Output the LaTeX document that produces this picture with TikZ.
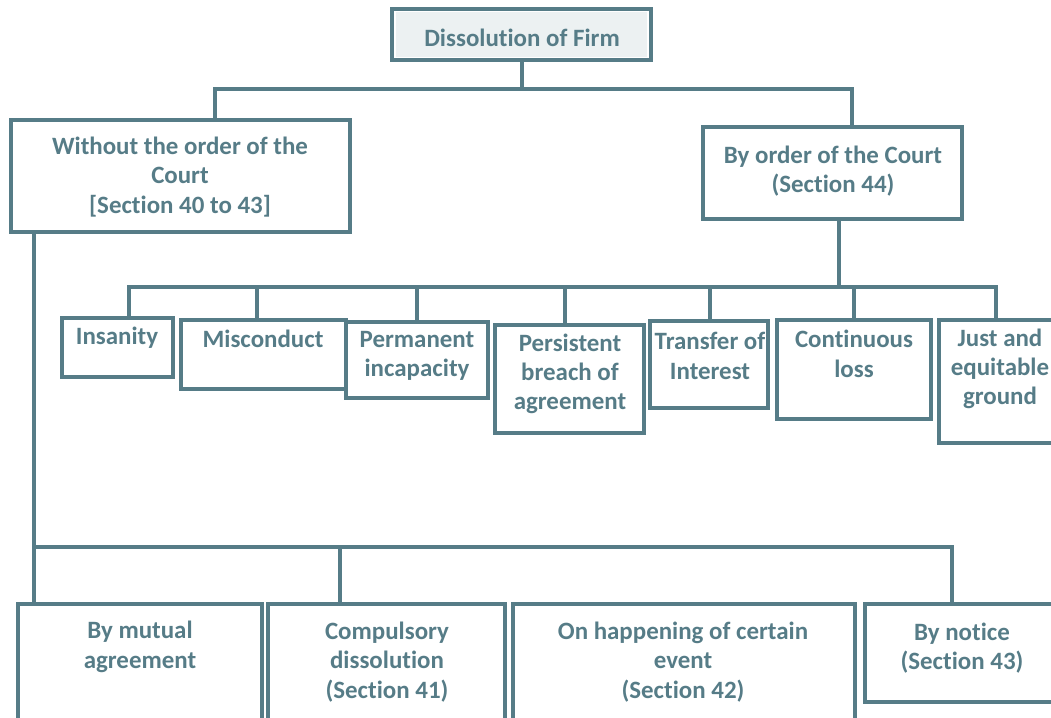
\documentclass[tikz,border=0pt]{standalone}
\usepackage{fontspec}
\setmainfont{Carlito}[Ligatures=NoCommon]
\usetikzlibrary{fit}
\definecolor{slate}{RGB}{86,124,135}
\definecolor{paper}{RGB}{236,241,242}

\begin{document}
\begin{tikzpicture}[x=0.75pt,y=-0.75pt,
  wire/.style={draw=slate,line width=3pt,line join=miter},
  box/.style={draw=slate,line width=3pt,rectangle,inner sep=0pt},
  lbl/.style={text=slate,font=\bfseries\fontsize{18.7}{22}\selectfont,align=center,inner sep=0pt}]

\useasboundingbox (0,0) rectangle (1051,718);
\clip (0,0) rectangle (1051,718);

% root
\node[box,fill=white,fit={(392,9) (651,60)}] (root) {};
\fill[paper] ([shift={(6,5)}]root.north west) rectangle ([shift={(-6,-5)}]root.south east);
\node[lbl] (rootT) at (522,38) {Dissolution of Firm};

% the two kinds of dissolution
\node[box,fit={(11,120) (350,232)}] (without) {};
\node[lbl] (withoutT) at (180,177) {Without the order of the\\Court\\{[Section 40 to 43]}};
\node[box,fit={(703,127) (962,219)}] (court) {};
\node[lbl] (courtT) at (833,171) {By order of the Court\\(Section 44)};

% grounds for dissolution by the court
\node[box,fit={(62,318) (173,377)}] (insanity) {};
\node[lbl] (insanityT) at (117,338) {Insanity};
\node[box,fit={(181,320) (346,389)}] (misconduct) {};
\node[lbl] (misconductT) at (263,339) {Misconduct};
\node[box,fit={(346,322) (488,398)}] (incap) {};
\node[lbl] (incapT) at (417,356) {Permanent\\incapacity};
\node[box,fit={(495,325) (644,433)}] (breach) {};
\node[lbl] (breachT) at (570,374) {Persistent\\breach of\\agreement};
\node[box,fit={(650,321) (768,408)}] (transfer) {};
\node[lbl] (transferT) at (710,356) {Transfer of\\Interest};
\node[box,fit={(777,320) (931,419)}] (loss) {};
\node[lbl] (lossT) at (854,354) {Continuous\\loss};
\node[box,fit={(939,320) (1080,443)}] (just) {};
\node[lbl] (justT) at (1000,369) {Just and\\equitable\\ground};

% modes of dissolution without the court
\node[box,fit={(18,604) (262,740)}] (mutual) {};
\node[lbl] (mutualT) at (140,647) {By mutual\\agreement};
\node[box,fit={(268,604) (505,740)}] (compulsory) {};
\node[lbl] (compulsoryT) at (387,662) {Compulsory\\dissolution\\(Section 41)};
\node[box,fit={(513,604) (855,740)}] (event) {};
\node[lbl] (eventT) at (683,662) {On happening of certain\\event\\(Section 42)};
\node[box,fit={(865,604) (1080,702)}] (notice) {};
\node[lbl] (noticeT) at (962,648) {By notice\\(Section 43)};

% connectors from the root
\coordinate (ja) at (215,89);
\coordinate (jb) at (852,89);
\draw[wire] (root.south) -- (root.south |- ja);
\draw[wire] (ja |- without.north) -- (ja) -- (jb) -- (jb |- court.north);

% connectors to the grounds
\coordinate (cc) at (839,287);
\coordinate (g1) at (129,287);
\coordinate (g2) at (257,287);
\coordinate (g3) at (417,287);
\coordinate (g4) at (565,287);
\coordinate (g5) at (710,287);
\coordinate (g6) at (854,287);
\coordinate (g7) at (996,287);
\draw[wire] (cc |- court.south) -- (cc);
\draw[wire] (g1 |- insanity.north) -- (g1) -- (g7) -- (g7 |- just.north);
\draw[wire] (g2) -- (g2 |- misconduct.north);
\draw[wire] (g3) -- (g3 |- incap.north);
\draw[wire] (g4) -- (g4 |- breach.north);
\draw[wire] (g5) -- (g5 |- transfer.north);
\draw[wire] (g6) -- (g6 |- loss.north);

% connectors to the modes
\coordinate (m1) at (34,547);
\coordinate (m2) at (340,547);
\coordinate (m4) at (952,547);
\draw[wire] (m1 |- without.south) -- (m1 |- mutual.north);
\draw[wire] (m1) -- (m4) -- (m4 |- notice.north);
\draw[wire] (m2) -- (m2 |- compulsory.north);
\end{tikzpicture}
\end{document}
